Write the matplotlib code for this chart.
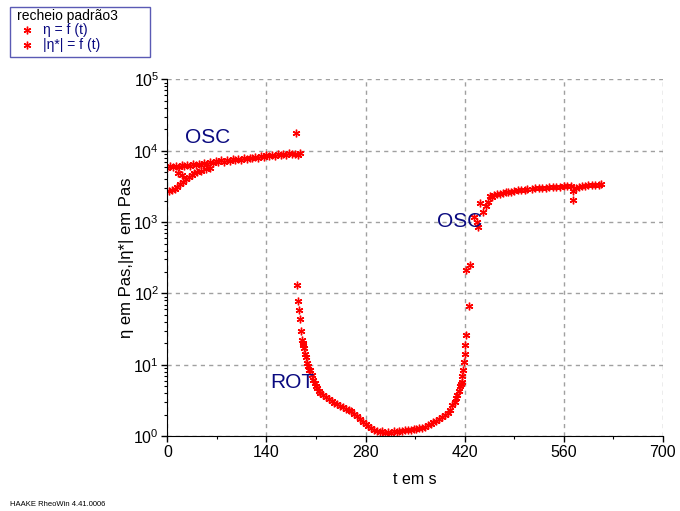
import numpy as np
import matplotlib
matplotlib.use("Agg")
import matplotlib.pyplot as plt
from matplotlib.ticker import LogLocator, MultipleLocator, NullFormatter
from matplotlib.lines import Line2D
from matplotlib.patches import Rectangle

plt.rcParams['font.family'] = ['Liberation Sans', 'DejaVu Sans']

# |eta*| = f(t) : oscillation, first block (upper branch)
osc1_t = [0, 4, 8, 12, 16, 20, 24, 28, 32, 36, 40, 44, 48, 52, 56, 60, 64, 68, 72, 76,
          80, 84, 88, 92, 96, 100, 104, 108, 112, 116, 120, 124, 128, 132, 136, 140,
          144, 148, 152, 156, 160, 164, 168, 172, 176, 180, 184, 187]
osc1_eta = [5700, 6100, 5900, 6200, 6000, 6300, 6100, 6400, 6200, 6500, 6300, 6600, 6400,
            6700, 6500, 6900, 6700, 7100, 6900, 7300, 7000, 7400, 7200, 7600, 7300, 7700,
            7500, 7900, 7600, 8000, 7800, 8200, 7900, 8400, 8100, 8600, 8300, 8800, 8500,
            9000, 8700, 9100, 8800, 9200, 8900, 9100, 8700, 9300]
# first block, lower branch + scattered points
osc1b_t = [2, 6, 10, 14, 18, 22, 26, 30, 34, 38, 42, 48, 54, 60, 15, 20, 182]
osc1b_eta = [2700, 2800, 2950, 3150, 3450, 3700, 4000, 4250, 4550, 4800, 5000, 5250,
             5500, 5750, 4900, 4600, 17800]

# eta = f(t) : rotation
rot_t = [183, 185, 186, 187, 189, 190, 191, 192, 193, 195, 196, 197, 199, 200, 202, 204,
         206, 208, 210, 212, 214, 216, 220, 224, 228, 232, 236, 240, 244, 248, 252, 256,
         260, 264, 268, 272, 276, 280, 284, 288, 292, 296, 300, 304, 308, 312, 316, 320,
         324, 328, 332, 336, 340, 344, 348, 352, 356, 360, 364, 368, 372, 376, 380, 384,
         388, 392, 396, 400, 403, 406, 408, 410, 412, 414, 415, 416, 417, 418, 419, 420,
         421, 422]
rot_eta = [132, 79, 59, 44, 30, 22.4, 20, 19, 17.4, 14, 12.9, 10.7, 9.6, 8.6, 8.5, 7.2,
           6.2, 5.6, 5.0, 4.7, 4.3, 4.1, 3.8, 3.5, 3.3, 3.1, 2.9, 2.8, 2.65, 2.55, 2.45,
           2.35, 2.25, 2.05, 1.9, 1.75, 1.6, 1.48, 1.38, 1.3, 1.22, 1.18, 1.15, 1.17, 1.12,
           1.15, 1.13, 1.17, 1.15, 1.19, 1.18, 1.21, 1.22, 1.24, 1.26, 1.28, 1.29, 1.3,
           1.35, 1.42, 1.5, 1.58, 1.66, 1.75, 1.88, 2.0, 2.15, 2.35, 2.7, 3.0, 3.4, 3.8,
           4.3, 5.0, 5.4, 5.8, 7.0, 8.5, 11, 14, 19, 26]

# |eta*| = f(t) : oscillation, second block
osc2_t = [422, 426, 428, 433, 438, 439, 442, 446, 450, 453, 456, 459, 462, 466, 470, 474,
          478, 482, 486, 490, 495, 500, 505, 508, 515, 520, 525, 530, 535, 540, 545, 550,
          555, 560, 565, 570, 574, 573, 578, 582, 586, 590, 595, 600, 605, 610, 613]
osc2_eta = [210, 66, 250, 1180, 1000, 850, 1850, 1380, 1700, 1900, 2300, 2250, 2400, 2450,
            2500, 2550, 2600, 2650, 2680, 2720, 2780, 2820, 2850, 2880, 2930, 2960, 3000,
            3020, 3050, 3080, 3100, 3120, 3150, 3180, 3230, 3200, 2750, 2050, 3000, 3150,
            3200, 3250, 3280, 3300, 3330, 3350, 3380]

legend_title = 'recheio padrão3'
legend_labels = ['η = f (t)', '|η*| = f (t)']

red = '#ff0000'
navy = '#0a0a80'
mk = dict(marker=(6, 2, 0), linestyle='none', color=red, markersize=5.5, markeredgewidth=1.0)

W, H = 680, 511
fig = plt.figure(figsize=(W / 100, H / 100), dpi=100)
ax = fig.add_axes([0.2463, 0.1462, 0.728, 0.6986])

ax.plot(rot_t, rot_eta, **mk)
ax.plot(osc1_t, osc1_eta, **mk)
ax.plot(osc1b_t, osc1b_eta, **mk)
ax.plot(osc2_t, osc2_eta, **mk)

ax.set_yscale('log')
ax.set_xlim(0, 700)
ax.set_ylim(1, 1e5)
ax.xaxis.set_major_locator(MultipleLocator(140))
ax.xaxis.set_minor_locator(MultipleLocator(70))
ax.yaxis.set_major_locator(LogLocator(base=10))
ax.yaxis.set_minor_locator(LogLocator(base=10, subs=np.arange(2, 10)))
ax.yaxis.set_minor_formatter(NullFormatter())
ax.tick_params(which='major', direction='out', length=4, width=1, labelsize=11.5, pad=2)
ax.tick_params(which='minor', direction='out', length=2.5, width=0.8)

ax.spines['top'].set_visible(False)
ax.spines['right'].set_visible(False)
ax.grid(True, which='major', color='#a0a0a0', linestyle=(0, (3, 3)), linewidth=1)

ax.set_xlabel('t em s', fontsize=11.5, labelpad=9)
ax.set_ylabel('η em Pas,|η*| em Pas', fontsize=12)
ax.yaxis.set_label_coords(-0.068, 0.5)

ax.text(25, 15500, 'OSC', color=navy, fontsize=15, va='center', ha='left')
ax.text(381, 1030, 'OSC', color=navy, fontsize=15, va='center', ha='left')
ax.text(145, 5.6, 'ROT', color=navy, fontsize=15, va='center', ha='left')

# legend box drawn by hand (pixel positions converted to figure fractions)
def px(x, y):
    return x / W, 1 - y / H

x0, y0 = px(10, 57)
x1, y1 = px(150, 7)
fig.patches.append(Rectangle((x0, y0), x1 - x0, y1 - y0, transform=fig.transFigure,
                             facecolor='white', edgecolor='#5a5ab4', linewidth=1))
fig.text(*px(17, 16), legend_title, fontsize=10, va='center', ha='left')
for i, lab in enumerate(legend_labels):
    yy = 30 + 15 * i
    fig.add_artist(Line2D([27 / W], [1 - yy / H], transform=fig.transFigure, **mk))
    fig.text(*px(43, yy), lab, fontsize=10, color=navy, va='center', ha='left')

fig.text(0.015, 0.01, 'HAAKE RheoWin 4.41.0006', fontsize=5.5)

fig.savefig('out.png', dpi=100)
